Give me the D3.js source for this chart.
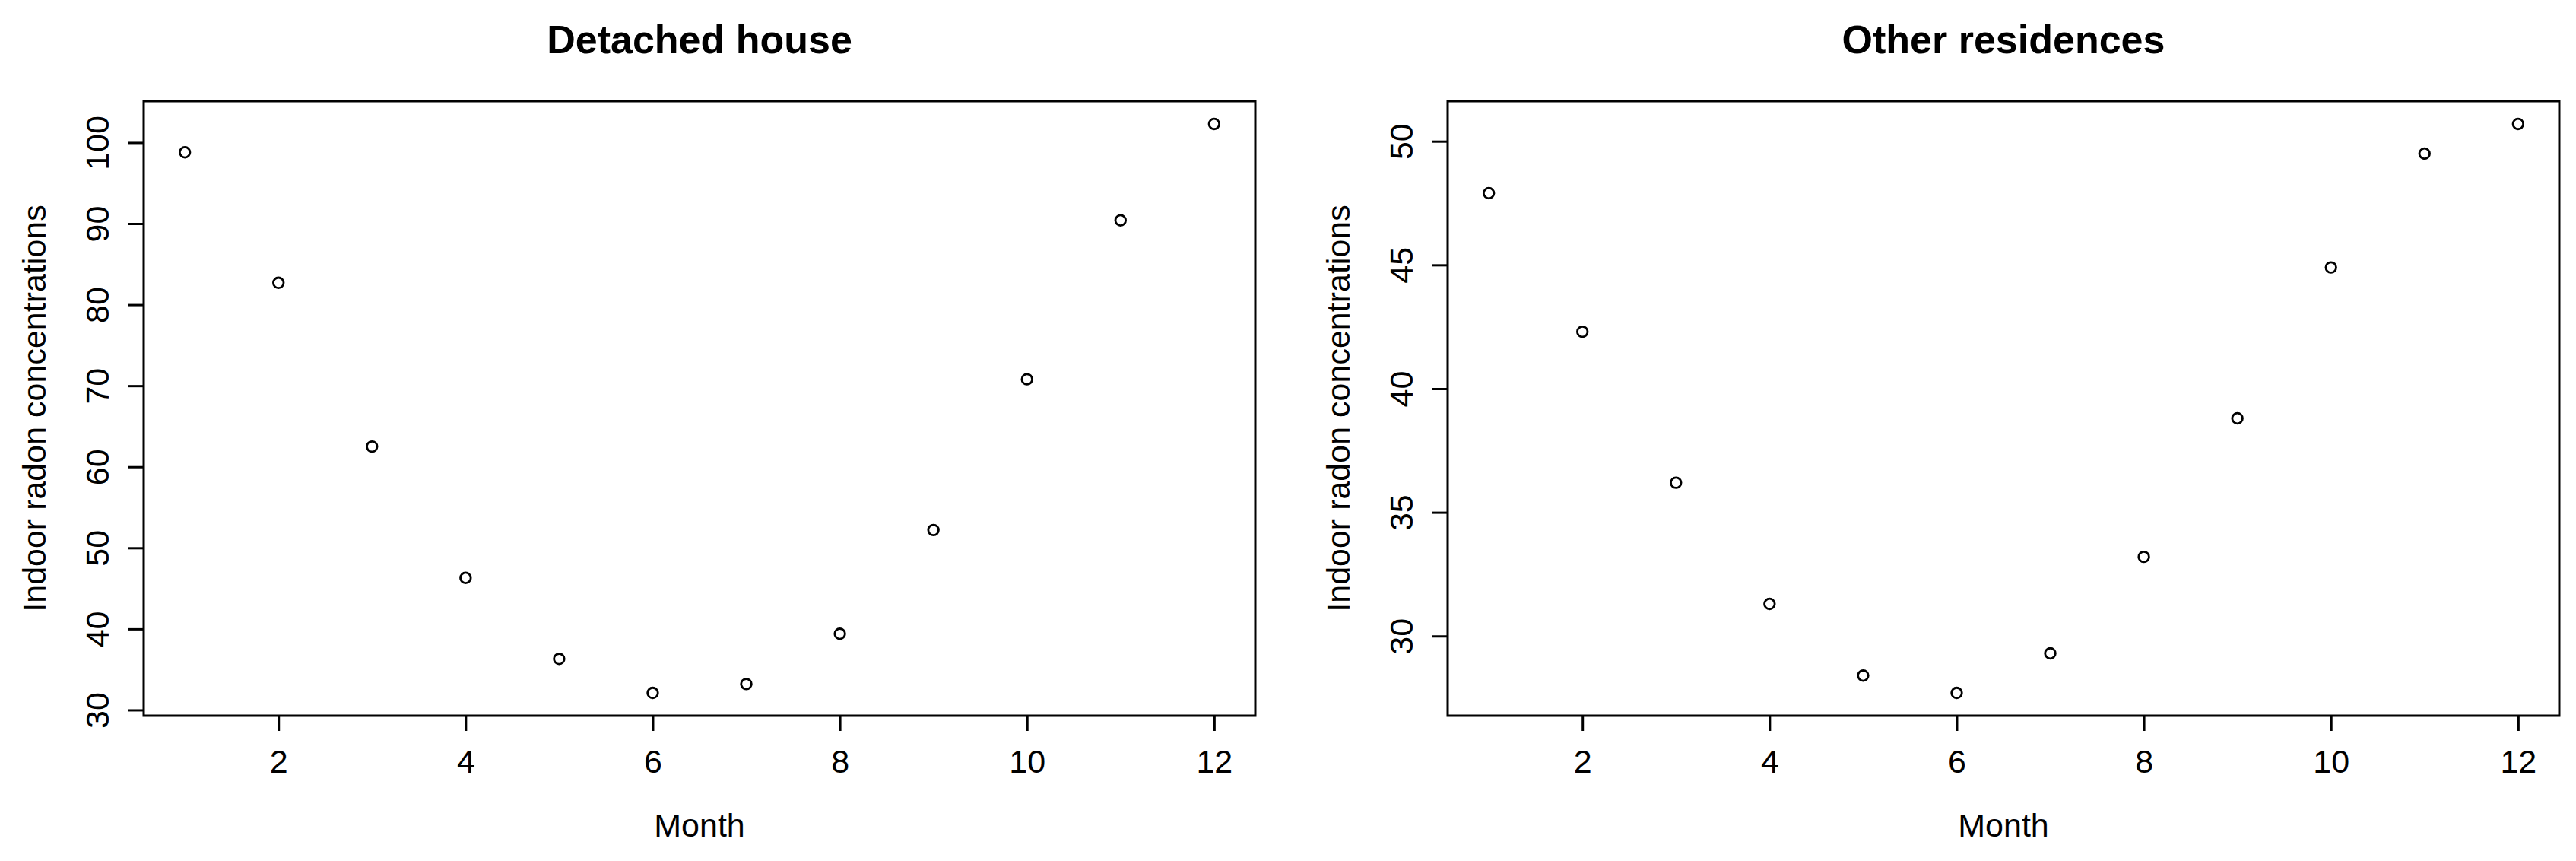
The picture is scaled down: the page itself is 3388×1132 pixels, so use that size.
<!DOCTYPE html>
<html>
<head>
<meta charset="utf-8">
<script src="https://cdn.jsdelivr.net/npm/d3@7"></script>
<style>
  body { margin: 0; background: #fff; }
  svg { display: block; }
  text { font-family: "Liberation Sans", Arial, Helvetica, sans-serif; fill: #000; }
</style>
</head>
<body>
<svg width="3388" height="1132"></svg>
<script>
const months = [1, 2, 3, 4, 5, 6, 7, 8, 9, 10, 11, 12];
const detachedHouse = [98.8, 82.7, 62.5, 46.3, 36.3, 32.1, 33.2, 39.4, 52.2, 70.8, 90.4, 102.3];
const otherResidences = [47.9, 42.3, 36.2, 31.3, 28.4, 27.7, 29.3, 33.2, 38.8, 44.9, 49.5, 50.7];
const xTicks = [2, 4, 6, 8, 10, 12];
const detachedTicks = [30, 40, 50, 60, 70, 80, 90, 100];
const otherTicks = [30, 35, 40, 45, 50];
const titles = ["Detached house", "Other residences"];

const svg = d3.select("svg");
const plotW = 1462;
const plotH = 808;
const plotTop = 133;
const lefts = [189, 1904];
const fontSize = 43;

// R-style axis range: data extent padded by 4% on each side
function rDomain(values) {
  const [lo, hi] = d3.extent(values);
  const pad = (hi - lo) * 0.04;
  return [lo - pad, hi + pad];
}

const panels = [
  { title: titles[0], values: detachedHouse, yTicks: detachedTicks },
  { title: titles[1], values: otherResidences, yTicks: otherTicks },
];

panels.forEach((p, i) => {
  const g = svg.append("g").attr("transform", `translate(${lefts[i]},${plotTop})`);

  const x = d3.scaleLinear().domain(rDomain(months)).range([0, plotW]);
  const y = d3.scaleLinear().domain(rDomain(p.values)).range([plotH, 0]);

  // x axis
  const xAxis = g.append("g")
    .attr("transform", `translate(0,${plotH})`)
    .call(d3.axisBottom(x).tickValues(xTicks).tickSize(20).tickFormat(d3.format("d")));
  xAxis.select(".domain").remove();
  xAxis.selectAll("line").attr("stroke", "#000").attr("stroke-width", 3);
  xAxis.selectAll("text")
    .attr("y", 75)
    .attr("dy", 0)
    .style("font-size", fontSize + "px");

  // y axis, labels rotated as in R
  const yAxis = g.append("g")
    .call(d3.axisLeft(y).tickValues(p.yTicks).tickSize(20).tickFormat(d3.format("d")));
  yAxis.select(".domain").remove();
  yAxis.selectAll("line").attr("stroke", "#000").attr("stroke-width", 3);
  yAxis.selectAll("text")
    .attr("x", 0)
    .attr("dy", 0)
    .attr("text-anchor", "middle")
    .attr("transform", "translate(-45.7,0) rotate(-90)")
    .style("font-size", fontSize + "px");

  // box
  g.append("rect")
    .attr("width", plotW)
    .attr("height", plotH)
    .attr("fill", "none")
    .attr("stroke", "#000")
    .attr("stroke-width", 3);

  // points
  g.append("g")
    .selectAll("circle")
    .data(months.map((m, j) => ({ month: m, value: p.values[j] })))
    .join("circle")
    .attr("cx", (d) => x(d.month))
    .attr("cy", (d) => y(d.value))
    .attr("r", 6.8)
    .attr("fill", "none")
    .attr("stroke", "#000")
    .attr("stroke-width", 2.8);

  // title
  g.append("text")
    .attr("x", plotW / 2)
    .attr("y", 70 - plotTop)
    .attr("text-anchor", "middle")
    .style("font-size", "52px")
    .style("font-weight", "bold")
    .text(p.title);

  // axis titles
  g.append("text")
    .attr("x", plotW / 2)
    .attr("y", 1100 - plotTop)
    .attr("text-anchor", "middle")
    .style("font-size", fontSize + "px")
    .text("Month");

  g.append("text")
    .attr("transform", `translate(-129,${plotH / 2}) rotate(-90)`)
    .attr("text-anchor", "middle")
    .style("font-size", fontSize + "px")
    .text("Indoor radon concentrations");
});
</script>
</body>
</html>
